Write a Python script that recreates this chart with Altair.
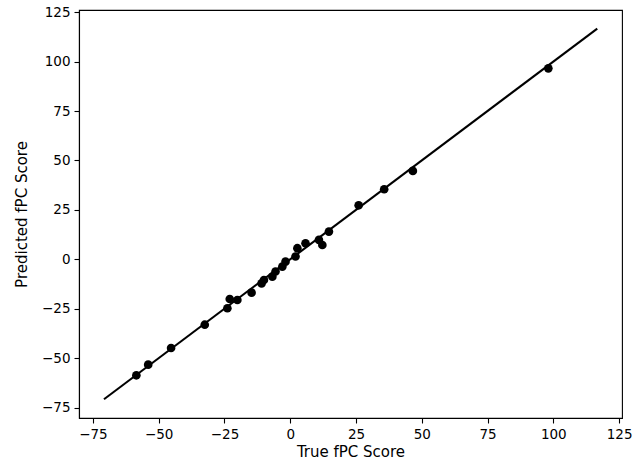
import altair as alt
import pandas as pd

true_scores = [-58.5, -54.0, -45.3, -32.5, -23.9, -23.0, -20.1, -14.7, -10.9, -10.0,
               -6.8, -5.6, -3.0, -1.8, 2.0, 2.7, 5.8, 10.9, 12.2, 14.7,
               26.0, 35.7, 46.6, 98.1]
pred_scores = [-58.7, -53.3, -44.9, -33.1, -24.8, -20.1, -20.6, -16.9, -12.2, -10.5,
               -8.8, -6.2, -3.7, -1.2, 1.4, 5.6, 8.1, 9.8, 7.2, 14.0,
               27.3, 35.4, 44.7, 96.6]
line_x = [-70.8, 116.7]
line_y = [-70.8, 116.7]
tick_vals = [-75, -50, -25, 0, 25, 50, 75, 100, 125]
domain = [-80.3, 126.1]

pts = pd.DataFrame({"x": true_scores, "y": pred_scores})
ln = pd.DataFrame({"x": line_x, "y": line_y})

lbl = "replace(datum.label, '-', '\u2212')"
xs = alt.Scale(domain=domain, nice=False, zero=False)
ys = alt.Scale(domain=domain, nice=False, zero=False)
xax = alt.Axis(values=tick_vals, title="True fPC Score", labelExpr=lbl, grid=False,
               titlePadding=4)
yax = alt.Axis(values=tick_vals, title="Predicted fPC Score", labelExpr=lbl, grid=False,
               titlePadding=12)

line = alt.Chart(ln).mark_line(color="black", strokeWidth=2.1).encode(
    x=alt.X("x:Q", scale=xs, axis=xax),
    y=alt.Y("y:Q", scale=ys, axis=yax),
)
points = alt.Chart(pts).mark_circle(color="black", opacity=1, size=75).encode(
    x=alt.X("x:Q", scale=xs, axis=xax),
    y=alt.Y("y:Q", scale=ys, axis=yax),
)

chart = (line + points).properties(
    width=543, height=408,
    autosize=alt.AutoSizeParams(type="none"),
    padding={"left": 79, "top": 10, "right": 11, "bottom": 45},
    background="white",
).configure_view(
    stroke="black", strokeWidth=1.1
).configure_axis(
    labelFont="DejaVu Sans", titleFont="DejaVu Sans",
    labelFontSize=13.5, titleFontSize=15, titleFontWeight="normal",
    labelColor="black", titleColor="black",
    domainColor="black", domainWidth=1.1,
    tickColor="black", tickWidth=1.1, tickSize=5,
    labelPadding=4,
)

chart.save("out.html", embed_options={"renderer": "svg", "actions": False})
